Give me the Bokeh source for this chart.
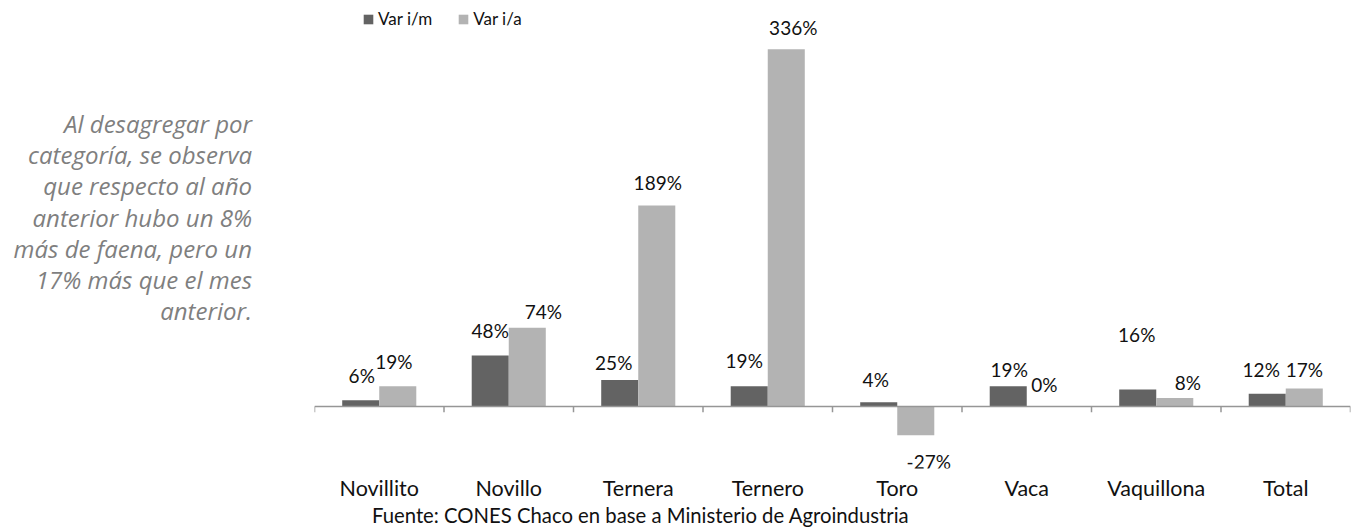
from bokeh.plotting import figure
from bokeh.models import ColumnDataSource, FactorRange, Legend, LegendItem, Div
from bokeh.layouts import row, column
from bokeh.transform import dodge
from bokeh.embed import file_html
from bokeh.resources import INLINE
from bokeh.core.properties import value

# ---- data ----
categories = ["Novillito", "Novillo", "Ternera", "Ternero", "Toro", "Vaca", "Vaquillona", "Total"]
var_im = [6, 48, 25, 19, 4, 19, 16, 12]
var_ia = [19, 74, 189, 336, -27, 0, 8, 17]
series_names = ["Var i/m", "Var i/a"]
note_lines = [
    "Al desagregar por",
    "categoría, se observa",
    "que respecto al año",
    "anterior hubo un 8%",
    "más de faena, pero un",
    "17% más que el mes",
    "anterior.",
]
source_text = "Fuente: CONES Chaco en base a Ministerio de Agroindustria"

# ---- label placement (pixel offsets, style only) ----
dx_im = [1, 0, -6, -5, -3, 1, -1, -6]
dy_im = [25, 25, 17, 26, 23, 17, 55, 24]
dx_ia = [-4, 16, 1, 7, 13, -1, 13, 0]
dy_ia = [25, 16, 23, 22, -26, 22, 16, 19]

FONT = "Lato"
DARK = "#636363"
LIGHT = "#b3b3b3"
AXIS = "#969696"

src = ColumnDataSource(dict(
    cat=categories, im=var_im, ia=var_ia,
    lab_im=[f"{v}%" for v in var_im], lab_ia=[f"{v}%" for v in var_ia],
    dx_im=dx_im, dy_im=[-d for d in dy_im],
    dx_ia=dx_ia, dy_ia=[-d for d in dy_ia],
))

p = figure(
    x_range=FactorRange(*categories, range_padding=0),
    y_range=(-58.3, 381.9),
    width=1096, height=508,
    output_backend="svg", toolbar_location=None,
    min_border_left=54, min_border_right=6, min_border_top=0, min_border_bottom=40,
)
p.outline_line_color = None
p.xgrid.visible = False
p.ygrid.visible = False
p.yaxis.visible = False
p.background_fill_color = None
p.border_fill_color = "white"

bw = 0.286
r_im = p.vbar(x=dodge("cat", -bw / 2, range=p.x_range), top="im", bottom=0, width=bw,
              source=src, fill_color=DARK, line_color=None)
r_ia = p.vbar(x=dodge("cat", bw / 2, range=p.x_range), top="ia", bottom=0, width=bw,
              source=src, fill_color=LIGHT, line_color=None)

# zero axis line and category-boundary ticks
n = len(categories)
p.segment(x0=[0], y0=[0], x1=[n], y1=[0], line_color=AXIS, line_width=1.5)
p.segment(x0=list(range(n + 1)), y0=[0] * (n + 1), x1=list(range(n + 1)), y1=[-5.5] * (n + 1),
          line_color=AXIS, line_width=1.5)

# data labels
common = dict(text_font=value(FONT), text_font_size="19px", text_color="#111111",
              text_align="center", text_baseline="middle")
p.text(x=dodge("cat", -bw / 2, range=p.x_range), y="im", text="lab_im",
       x_offset="dx_im", y_offset="dy_im", source=src, **common)
p.text(x=dodge("cat", bw / 2, range=p.x_range), y="ia", text="lab_ia",
       x_offset="dx_ia", y_offset="dy_ia", source=src, **common)

# category axis
ax = p.xaxis[0]
ax.axis_line_color = None
ax.major_tick_line_color = None
ax.minor_tick_line_color = None
ax.major_label_text_font = FONT
ax.major_label_text_font_size = "21.5px"
ax.major_label_text_color = "#111111"
ax.major_label_standoff = 0

# legend
legend = Legend(items=[LegendItem(label=series_names[0], renderers=[r_im]),
                       LegendItem(label=series_names[1], renderers=[r_ia])],
                orientation="horizontal", location=(48, 439),
                background_fill_alpha=0, border_line_color=None,
                glyph_width=12, glyph_height=12, label_standoff=4, spacing=25,
                padding=2, margin=0,
                label_text_font=FONT, label_text_font_size="17px", label_text_color="#111111")
p.add_layout(legend)

# side note
note_html = (
    '<div style="width:252px; box-sizing:border-box; padding-top:108px; text-align:right; '
    'font-family:\'Open Sans\'; font-style:italic; font-size:24px; line-height:31.2px; color:#7f7f7f; '
    'white-space:nowrap;">'
    + "<br>".join(note_lines) + "</div>"
)
note = Div(text=note_html, width=260, height=508, margin=0)

src_html = (
    '<div style="padding-left:372px; white-space:nowrap; font-family:Lato; font-size:20.3px; '
    'line-height:14px; color:#111111;">' + source_text + "</div>"
)
src_div = Div(text=src_html, width=1340, height=20, margin=0)

layout = column(row(note, p, spacing=0), src_div, spacing=0)
open("out.html", "w").write(file_html(layout, INLINE))
